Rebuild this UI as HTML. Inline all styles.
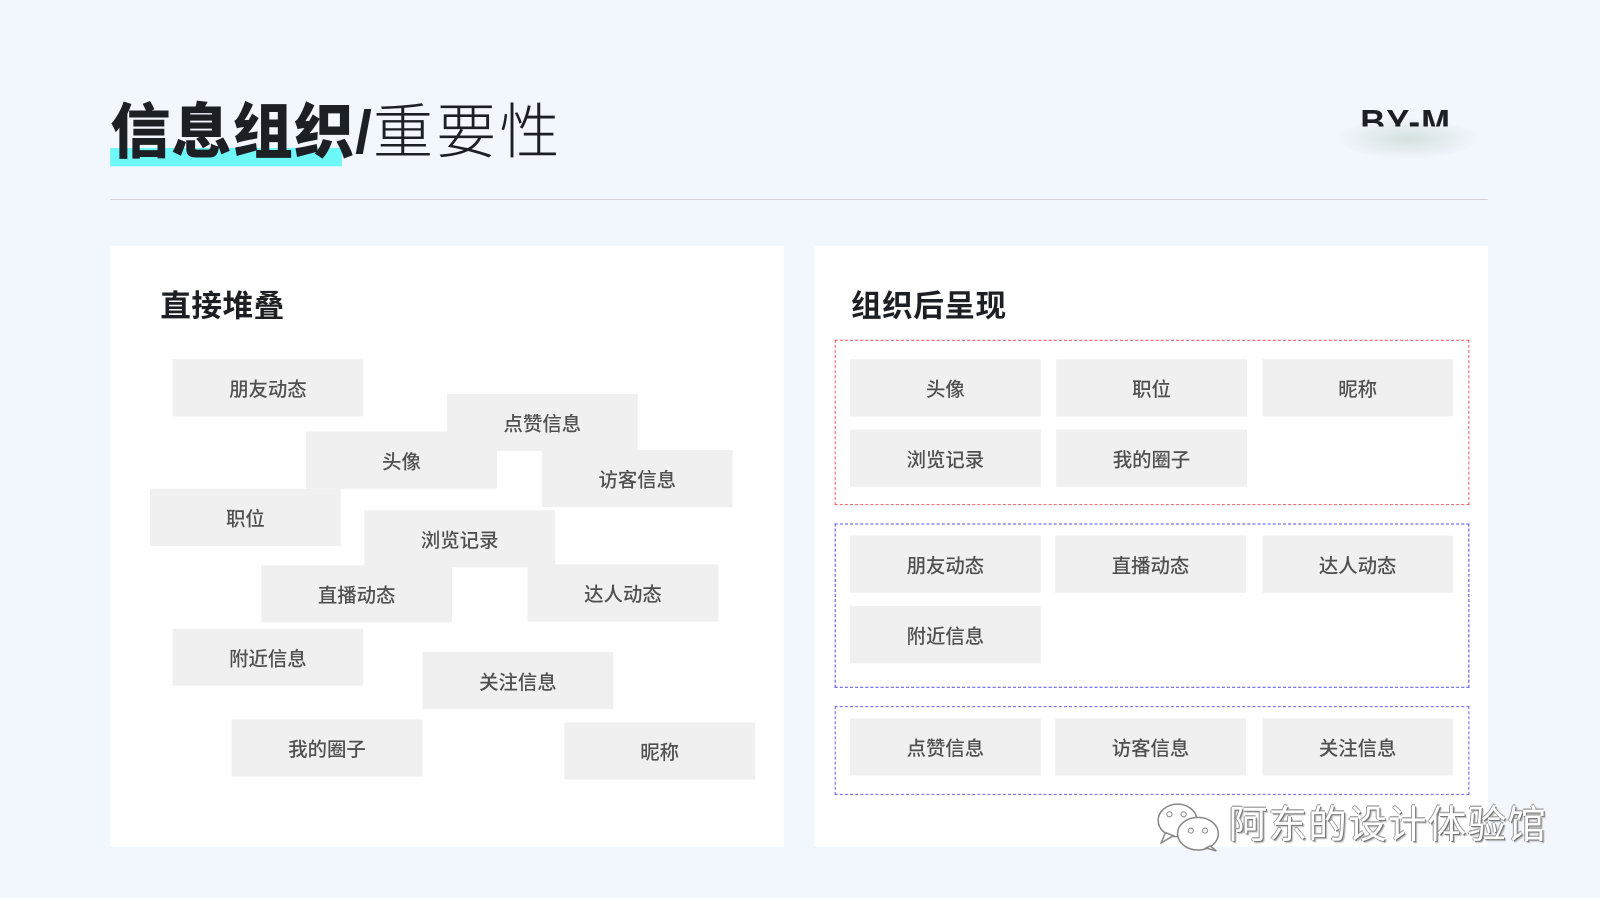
<!DOCTYPE html>
<html><head><meta charset="utf-8"><style>
*{margin:0;padding:0;box-sizing:border-box}
html,body{width:1600px;height:898px;overflow:hidden;background:#f2f6fd}
#w{position:absolute;left:0;top:0;width:1568px;height:880px;transform:scale(1.020408);transform-origin:0 0;font-family:"Liberation Sans","Noto Sans CJK SC",sans-serif}
.a{position:absolute}
.panel{position:absolute;background:#fff;top:241px;width:660px;height:589px}
.h{position:absolute;font-size:30px;font-weight:700;color:#1c1f24;top:275px;letter-spacing:0.5px}
.b{position:absolute;width:187px;height:56px;background:#f0f0f0;color:#505050;font-size:19px;font-weight:500;display:flex;align-items:center;justify-content:center}
.g{position:absolute;left:818px;width:622px;border:1px dashed}
</style></head><body><div id="w">
<div class="a" style="left:108px;top:145px;width:227px;height:18px;background:#6ef8f8"></div>
<div class="a" style="left:108px;top:95px;font-size:59px;line-height:70px;color:#1c1f24;white-space:nowrap;letter-spacing:1px"><b style="font-weight:900">信息组织/</b><span style="font-weight:300;letter-spacing:3px">重要性</span></div>
<div class="a" style="left:1310px;top:116px;width:140px;height:40px;background:radial-gradient(ellipse at center,rgba(200,215,210,.7),rgba(242,246,253,0) 70%)"></div>
<div class="a" style="left:1333px;top:98px;height:26px;overflow:hidden;font-size:34px;font-weight:700;color:#1c1f24;line-height:44px;letter-spacing:1px">BY-M</div>
<div class="a" style="left:108px;top:195px;width:1350px;height:1px;background:#d3d3d3"></div>

<div class="panel" style="left:108px"></div>
<div class="panel" style="left:798px"></div>
<div class="h" style="left:157px">直接堆叠</div>
<div class="h" style="left:834px">组织后呈现</div>

<div class="b" style="left:169px;top:352px">朋友动态</div>
<div class="b" style="left:438px;top:386px">点赞信息</div>
<div class="b" style="left:300px;top:423px">头像</div>
<div class="b" style="left:531px;top:441px">访客信息</div>
<div class="b" style="left:147px;top:479px">职位</div>
<div class="b" style="left:357px;top:500px">浏览记录</div>
<div class="b" style="left:256px;top:554px">直播动态</div>
<div class="b" style="left:517px;top:553px">达人动态</div>
<div class="b" style="left:169px;top:616px">附近信息</div>
<div class="b" style="left:414px;top:639px">关注信息</div>
<div class="b" style="left:227px;top:705px">我的圈子</div>
<div class="b" style="left:553px;top:708px">昵称</div>

<div class="g" style="top:333px;height:162px;border-color:#f0606a"></div>
<div class="g" style="top:513px;height:161px;border-color:#5a4cf0"></div>
<div class="g" style="top:692px;height:87px;border-color:#7a5cf0"></div>

<div class="b" style="left:833px;top:352px">头像</div>
<div class="b" style="left:1035px;top:352px">职位</div>
<div class="b" style="left:1237px;top:352px">昵称</div>
<div class="b" style="left:833px;top:421px">浏览记录</div>
<div class="b" style="left:1035px;top:421px">我的圈子</div>
<div class="b" style="left:833px;top:525px">朋友动态</div>
<div class="b" style="left:1034px;top:525px">直播动态</div>
<div class="b" style="left:1237px;top:525px">达人动态</div>
<div class="b" style="left:833px;top:594px">附近信息</div>
<div class="b" style="left:833px;top:704px">点赞信息</div>
<div class="b" style="left:1034px;top:704px">访客信息</div>
<div class="b" style="left:1237px;top:704px">关注信息</div>

<svg class="a" style="left:1132px;top:786px" width="66" height="50" viewBox="0 0 66 50">
<g fill="#fff" stroke="#888" stroke-width="1.5">
<ellipse cx="22" cy="18" rx="19" ry="16"/><path d="M10 30 L6 40 L18 33Z"/>
<ellipse cx="42" cy="31" rx="20" ry="16"/><path d="M54 43 L60 48 L50 45Z"/>
</g>
<g fill="#fff" stroke="#888"><circle cx="14" cy="12" r="2.5"/><circle cx="28" cy="12" r="2.5"/><circle cx="35" cy="28" r="2.5"/><circle cx="49" cy="28" r="2.5"/></g>
</svg>
<div class="a" style="left:1204px;top:785px;font-size:38px;line-height:48px;color:#fff;white-space:nowrap;letter-spacing:1px;text-shadow:1px 1px 0 #777,-1px 0 0 #999,0 -1px 0 #aaa,2px 2px 1px #bbb">阿东的设计体验馆</div>
</div></body></html>
